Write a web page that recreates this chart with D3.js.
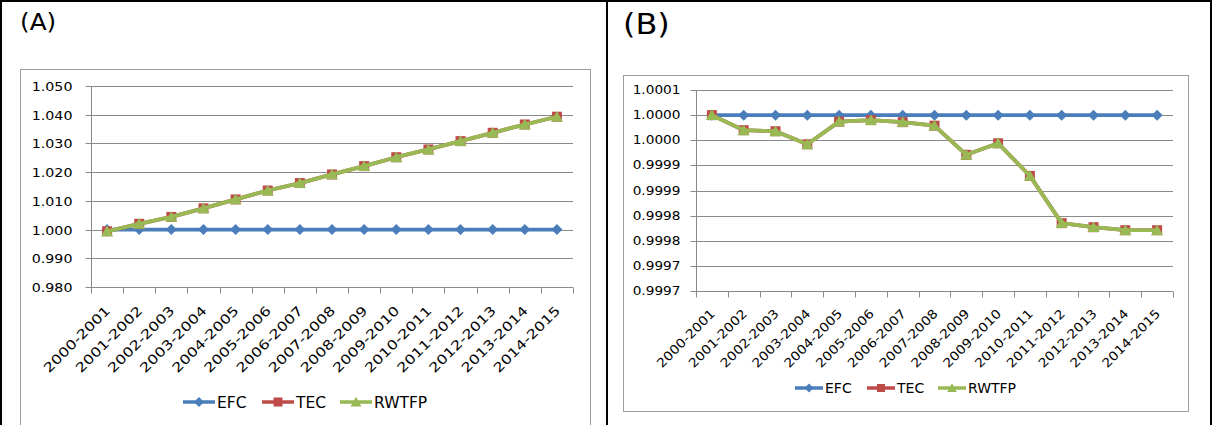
<!DOCTYPE html>
<html><head><meta charset="utf-8">
<script src="https://cdn.jsdelivr.net/npm/d3@7"></script>
<style>
html,body{margin:0;padding:0;background:#fff;}
svg{display:block;font-family:"DejaVu Sans",Verdana,sans-serif;}
</style></head>
<body>
<svg id="c" width="1213" height="425"></svg>
<script>
const categories = ["2000-2001","2001-2002","2002-2003","2003-2004","2004-2005","2005-2006","2006-2007","2007-2008","2008-2009","2009-2010","2010-2011","2011-2012","2012-2013","2013-2014","2014-2015"];
const seriesNames = ["EFC","TEC","RWTFP"];
// Panel A
const efcA   = [1.000,1.000,1.000,1.000,1.000,1.000,1.000,1.000,1.000,1.000,1.000,1.000,1.000,1.000,1.000];
const tecA   = [0.9994,1.0020,1.0044,1.0074,1.0105,1.0136,1.0162,1.0192,1.0221,1.0252,1.0279,1.0308,1.0337,1.0366,1.0393];
const rwtfpA = [0.9994,1.0020,1.0044,1.0074,1.0105,1.0136,1.0162,1.0192,1.0221,1.0252,1.0279,1.0308,1.0337,1.0366,1.0393];
const ticksA = [0.980,0.990,1.000,1.010,1.020,1.030,1.040,1.050];
const tickLabelsA = ["0.980","0.990","1.000","1.010","1.020","1.030","1.040","1.050"];
// Panel B
const efcB   = [1.00005,1.00005,1.00005,1.00005,1.00005,1.00005,1.00005,1.00005,1.00005,1.00005,1.00005,1.00005,1.00005,1.00005,1.00005];
const tecB   = [1.00005,1.00002,1.000018,0.999992,1.000037,1.00004,1.000036,1.000029,0.999971,0.999994,0.999929,0.999835,0.999827,0.999821,0.999821];
const rwtfpB = [1.00005,1.00002,1.000018,0.999992,1.000037,1.00004,1.000036,1.000029,0.999971,0.999994,0.999929,0.999835,0.999827,0.999821,0.999821];
const ticksB = [0.99970,0.99975,0.99980,0.99985,0.99990,0.99995,1.00000,1.00005,1.00010];
const tickLabelsB = ["0.9997","0.9997","0.9998","0.9998","0.9999","0.9999","1.0000","1.0000","1.0001"];
const panelLabels = ["(A)","(B)"];

const colors = {EFC:"#4A7EBB", TEC:"#BE4B48", RWTFP:"#98B954"};
const svg = d3.select("#c");

function stretch(sel,k){
  sel.each(function(){
    const L = this.getComputedTextLength();
    d3.select(this).attr("textLength",L*k).attr("lengthAdjust","spacingAndGlyphs");
  });
  return sel;
}

// table frame
svg.append("rect").attr("x",1).attr("y",1).attr("width",1210).attr("height",440)
  .attr("fill","none").attr("stroke","#000").attr("stroke-width",2);
svg.append("line").attr("x1",607).attr("x2",607).attr("y1",0).attr("y2",425)
  .attr("stroke","#000").attr("stroke-width",2);

function marker(name,k){
  if(name==="EFC"){const r=5.5*k;return `M0,${-r}L${r},0L0,${r}L${-r},0Z`;}
  if(name==="TEC"){const r=5*k;return `M${-r},${-r}H${r}V${r}H${-r}Z`;}
  const r=5.8*k; return `M0,${-r}L${r*1.05},${r*0.85}H${-r*1.05}Z`;
}

function panel(cfg){
  const g = svg.append("g");
  stretch(g.append("text").attr("x",cfg.labelX).attr("y",cfg.labelY).attr("font-size",cfg.labelSize)
    .attr("fill","#000").text(cfg.label), cfg.labelK);
  g.append("rect").attr("x",cfg.box[0]+0.5).attr("y",cfg.box[1]+0.5).attr("width",cfg.box[2]).attr("height",cfg.box[3])
    .attr("fill","#fff").attr("stroke","#9c9c9c").attr("stroke-width",1);
  const x = d3.scaleBand().domain(categories).range([cfg.left,cfg.right]);
  const y = d3.scaleLinear().domain(cfg.domain).range([cfg.bottom,cfg.top]);
  // gridlines
  g.append("g").selectAll("line").data(cfg.ticks).join("line")
    .attr("x1",cfg.left).attr("x2",cfg.right)
    .attr("y1",d=>Math.round(y(d))+0.5).attr("y2",d=>Math.round(y(d))+0.5)
    .attr("stroke","#8a8a8a").attr("stroke-width",1);
  // y axis
  const ya = d3.axisLeft(y).tickValues(cfg.ticks).tickSize(6).tickPadding(cfg.yPad)
    .tickFormat((d,i)=>cfg.tickLabels[i]);
  const yg = g.append("g").attr("transform",`translate(${cfg.left+0.5},0)`).call(ya);
  yg.select(".domain").attr("stroke","#8a8a8a").attr("d",`M0,${cfg.top}V${cfg.bottom}`);
  yg.selectAll(".tick line").attr("stroke","#8a8a8a");
  yg.selectAll(".tick").attr("transform",d=>`translate(0,${Math.round(y(d))+0.5})`);
  stretch(yg.selectAll("text").attr("font-size",cfg.yFs).attr("font-family","DejaVu Sans").attr("fill","#000"), cfg.yK);
  // x axis
  const xb = Math.round(y(cfg.domain[0]))+0.5;
  const xg = g.append("g").attr("transform",`translate(0,${xb})`);
  xg.append("line").attr("x1",cfg.left).attr("x2",cfg.right).attr("stroke","#8a8a8a");
  const bounds = categories.map(c=>x(c)).concat([cfg.right]);
  xg.selectAll("line.t").data(bounds).join("line").attr("class","t")
    .attr("x1",d=>Math.round(d)+0.5).attr("x2",d=>Math.round(d)+0.5).attr("y1",0).attr("y2",6)
    .attr("stroke","#8a8a8a");
  stretch(xg.selectAll("text").data(categories).join("text")
    .attr("font-size",cfg.xFs).attr("fill","#000").attr("text-anchor","end")
    .attr("transform",d=>`translate(${x(d)+x.bandwidth()/2+cfg.xOff[0]},${cfg.xOff[1]}) rotate(-45)`)
    .text(d=>d), cfg.xK);
  // series
  const cx = d=>x(d)+x.bandwidth()/2;
  const series = [
    {name:"EFC", vals:cfg.efc},
    {name:"TEC", vals:cfg.tec},
    {name:"RWTFP", vals:cfg.rwtfp}
  ];
  const line = d3.line().x((d,i)=>cx(categories[i])).y(d=>y(d));
  series.forEach(s=>{
    g.append("path").datum(s.vals).attr("d",line).attr("fill","none")
      .attr("stroke",colors[s.name]).attr("stroke-width",3.8).attr("stroke-linejoin","round");
    g.append("g").selectAll("path").data(s.vals).join("path")
      .attr("transform",(d,i)=>`translate(${cx(categories[i])},${y(d)})`)
      .attr("d",marker(s.name,1))
      .attr("fill",colors[s.name]);
  });
  // legend
  const lg = g.append("g");
  cfg.legend.forEach((lx,i)=>{
    const n = seriesNames[i];
    lg.append("line").attr("x1",lx).attr("x2",lx+cfg.legendLen).attr("y1",cfg.legendY).attr("y2",cfg.legendY)
      .attr("stroke",colors[n]).attr("stroke-width",3.5);
    lg.append("path").attr("transform",`translate(${lx+cfg.legendLen/2},${cfg.legendY})`).attr("d",marker(n,cfg.legendMk)).attr("fill",colors[n]);
    lg.append("text").attr("x",lx+cfg.legendLen+2).attr("y",cfg.legendY).attr("dy","0.36em")
      .attr("font-size",cfg.legendFs).attr("fill","#000").text(n);
  });
}

panel({label:panelLabels[0],labelX:20,labelY:30,labelSize:22.5,labelK:1.1,
  box:[20,69,570,356],left:91,right:573,top:86,bottom:287,domain:[0.980,1.050],
  ticks:ticksA,tickLabels:tickLabelsA,yFs:12.5,yK:1.14,yPad:13,
  xFs:13,xK:1.24,xOff:[4,24],efc:efcA,tec:tecA,rwtfp:rwtfpA,
  legend:[183,262,340],legendLen:32,legendMk:0.9,legendY:402,legendFs:15.5});
panel({label:panelLabels[1],labelX:623,labelY:34,labelSize:28,labelK:1.14,
  box:[623,75,565,336],left:696,right:1173,top:90,bottom:291,domain:[0.99970,1.00010],
  ticks:ticksB,tickLabels:tickLabelsB,yFs:12,yK:1.14,yPad:10,
  xFs:12.5,xK:1.12,xOff:[4,23],efc:efcB,tec:tecB,rwtfp:rwtfpB,
  legend:[795,867,938],legendLen:28,legendMk:0.8,legendY:388,legendFs:14});
</script>
</body></html>
